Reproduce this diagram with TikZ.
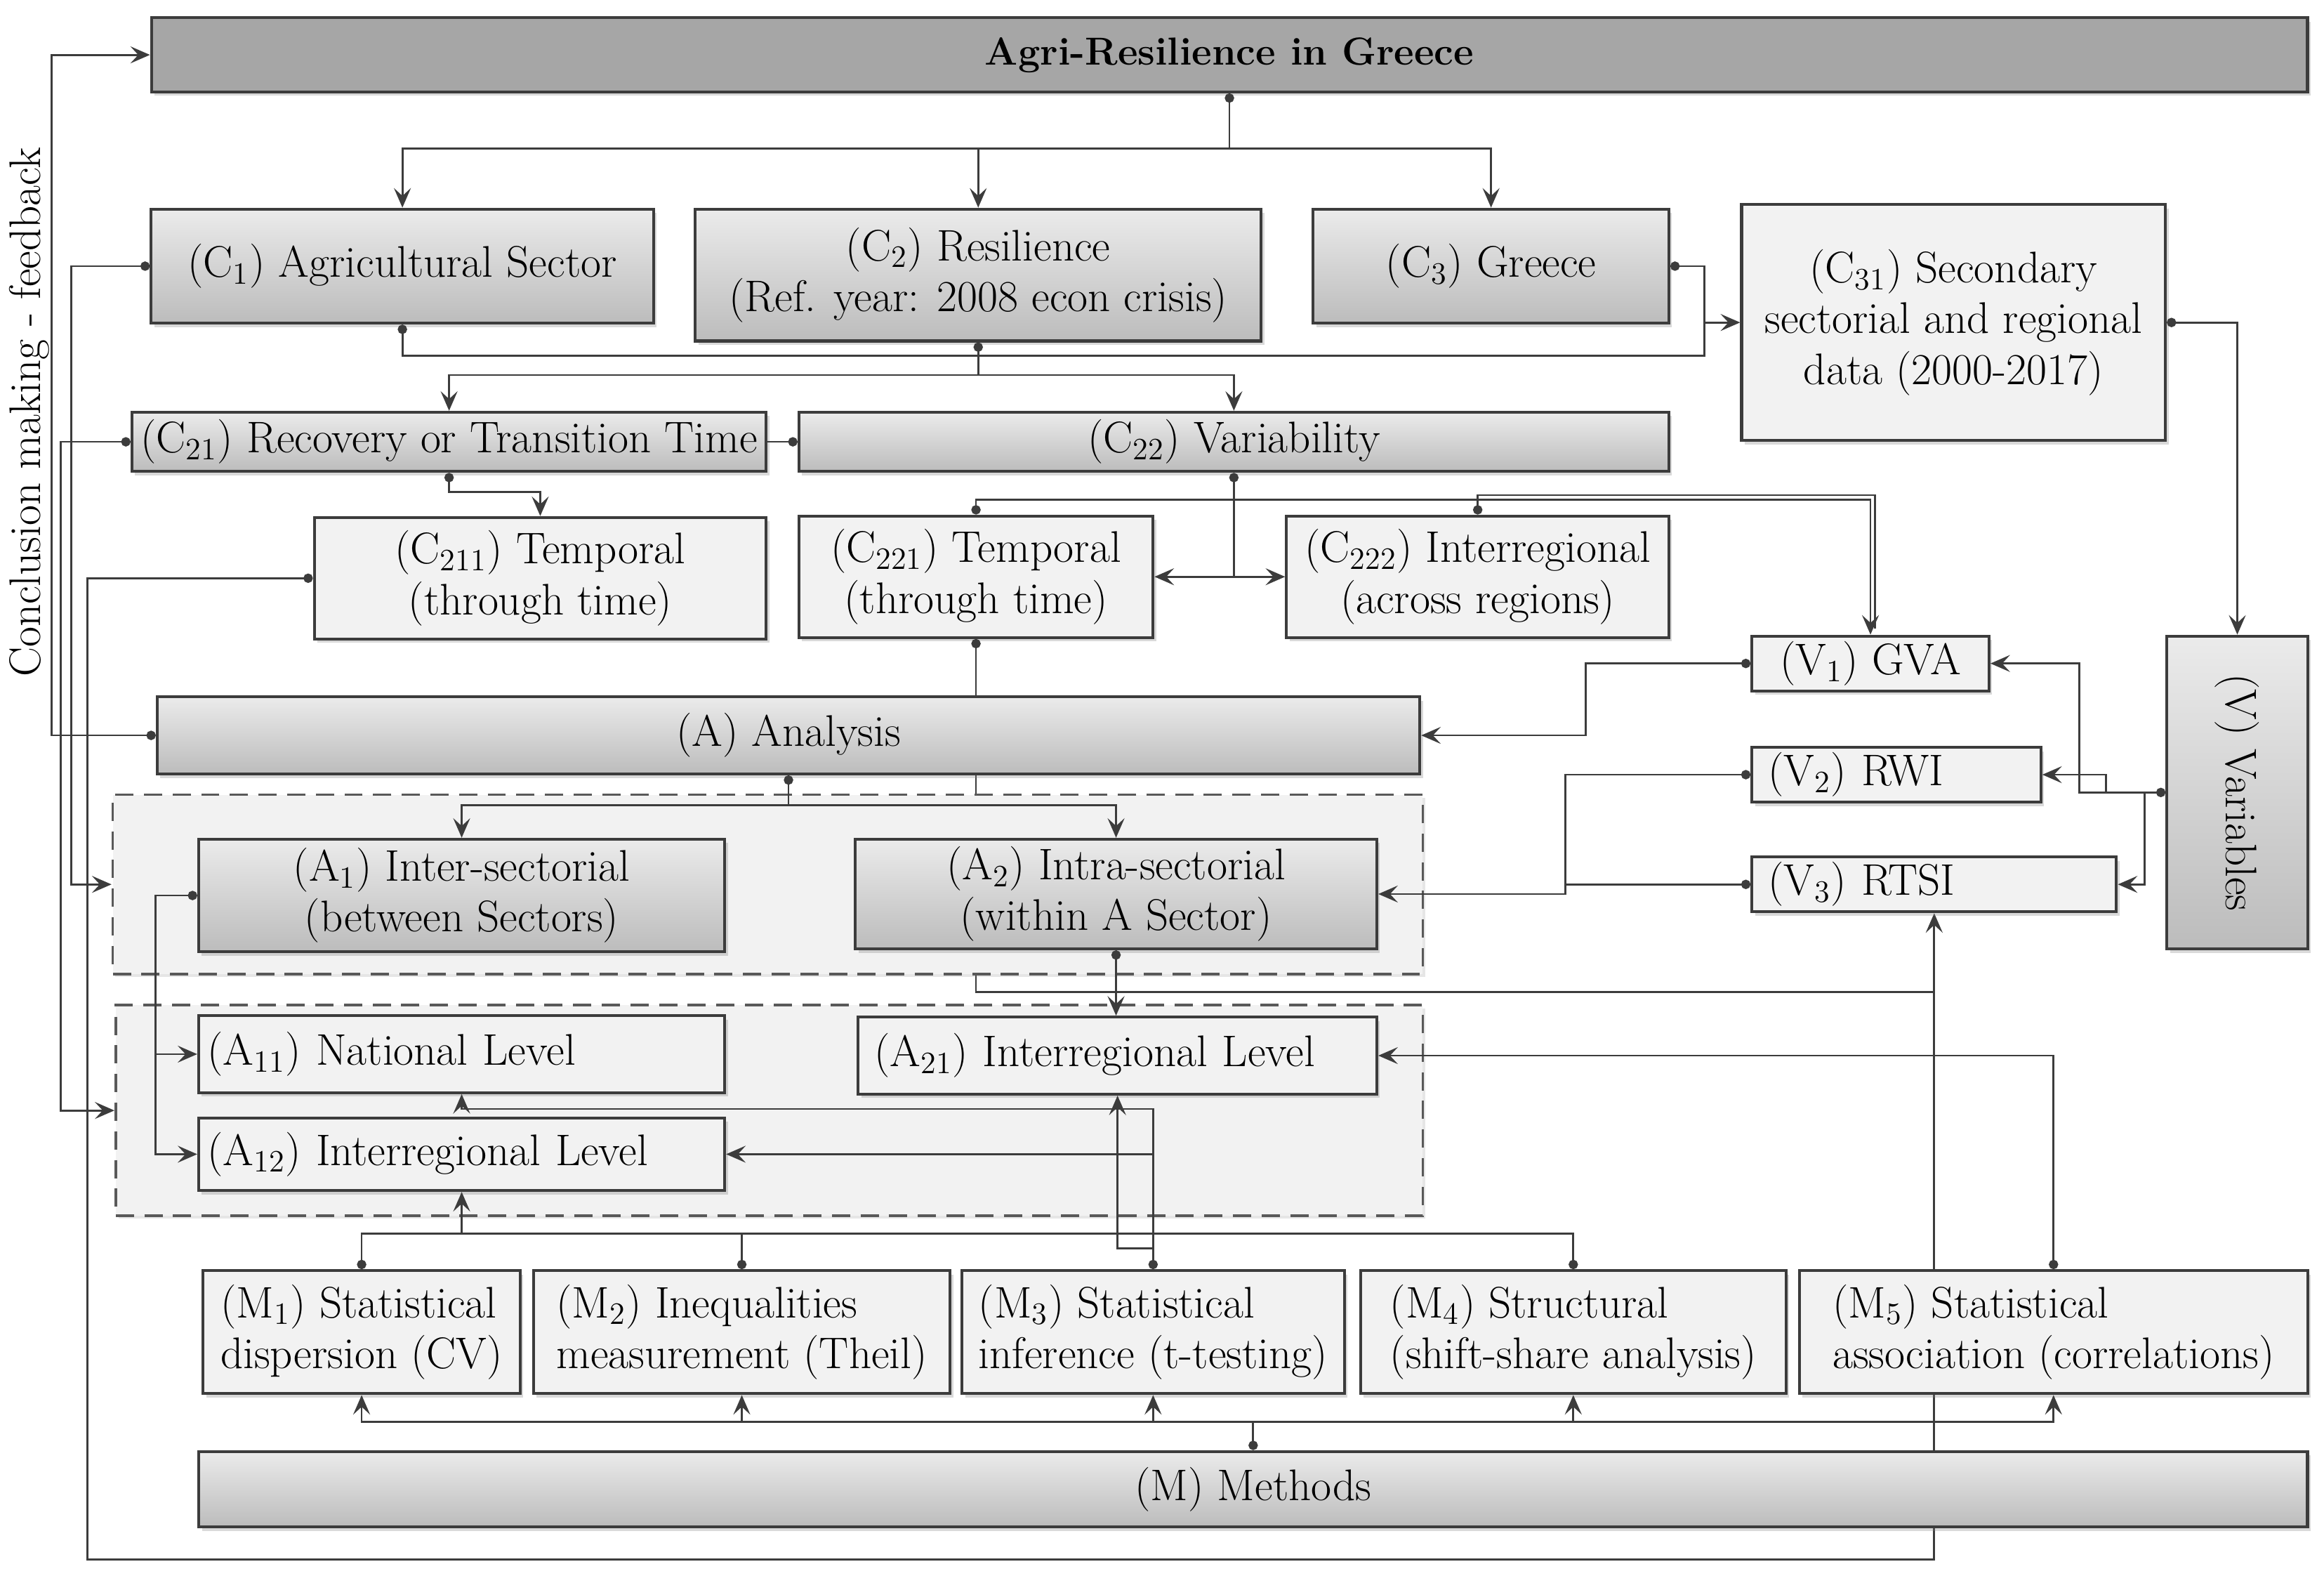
\documentclass[tikz,border=0pt]{standalone}
\usepackage{tikz}
\usetikzlibrary{arrows.meta,positioning,shadows,backgrounds}
\definecolor{arbar}{HTML}{A6A6A6}
\definecolor{arlight}{HTML}{F2F2F2}
\definecolor{artop}{HTML}{EBEBEB}
\definecolor{arbottom}{HTML}{BCBCBC}
\definecolor{arline}{HTML}{3C3C3C}

\tikzset{
  basebox/.style={draw=arline, line width=1.1pt, inner sep=0pt, align=center,
    font=\fontsize{17pt}{19.5pt}\selectfont,
    drop shadow={shadow xshift=1.2pt, shadow yshift=-1.5pt, opacity=0.3}},
  darkbox/.style={basebox, fill=arbar},
  midbox/.style={basebox, top color=artop, bottom color=arbottom},
  lightbox/.style={basebox, fill=arlight},
  groupbox/.style={draw=arline!85, line width=1pt, dash pattern=on 7pt off 4pt,
    fill=arlight, inner sep=0pt,
    drop shadow={shadow xshift=1pt, shadow yshift=-1.2pt, opacity=0.2}},
  wire/.style={draw=arline, line width=0.75pt},
  wirearr/.style={wire, -{Stealth[length=7.5pt,width=6.5pt,inset=3pt]}},
  dotwire/.style={wire, {Circle[length=3.6pt]}-},
  dotwirearr/.style={wire, {Circle[length=3.6pt]}-{Stealth[length=7.5pt,width=6.5pt,inset=3pt]}},
}

\begin{document}
\begin{tikzpicture}[x=0.02cm, y=-0.02cm]
  \useasboundingbox (0,0) rectangle (1568,1063);

  % Title and concepts
  \node[darkbox, minimum width=29.1cm, minimum height=1cm, font=\fontsize{15pt}{19pt}\selectfont\bfseries] (title) at (829.5,37) {Agri-Resilience in Greece};
  \node[midbox, minimum width=6.78cm, minimum height=1.54cm] (c1) at (271.5,179.5) {(C\textsubscript{1}) Agricultural Sector};
  \node[midbox, minimum width=7.64cm, minimum height=1.78cm] (c2) at (660,185.5) {(C\textsubscript{2}) Resilience\\(Ref. year: 2008 econ crisis)};
  \node[midbox, minimum width=4.8cm, minimum height=1.54cm] (c3) at (1006,179.5) {(C\textsubscript{3}) Greece};
  \node[lightbox, minimum width=5.72cm, minimum height=3.18cm] (c31) at (1318,217.5) {(C\textsubscript{31}) Secondary\\sectorial and regional\\data (2000-2017)};
  \node[midbox, minimum width=8.56cm, minimum height=0.8cm] (c21) at (303,298) {(C\textsubscript{21}) Recovery or Transition Time};
  \node[midbox, minimum width=11.74cm, minimum height=0.8cm] (c22) at (832.5,298) {(C\textsubscript{22}) Variability};
  \node[lightbox, minimum width=6.1cm, minimum height=1.64cm] (c211) at (364.5,390) {(C\textsubscript{211}) Temporal\\(through time)};
  \node[lightbox, minimum width=4.78cm, minimum height=1.64cm] (c221) at (658.5,389) {(C\textsubscript{221}) Temporal\\(through time)};
  \node[lightbox, minimum width=5.16cm, minimum height=1.64cm] (c222) at (997,389) {(C\textsubscript{222}) Interregional\\(across regions)};

  % Variables
  \node[lightbox, minimum width=3.2cm, minimum height=0.74cm] (v1) at (1262,447.5) {(V\textsubscript{1}) GVA};
  \node[lightbox, minimum width=3.9cm, minimum height=0.74cm, text width=3.46cm, align=left] (v2) at (1279.5,522.5) {(V\textsubscript{2}) RWI};
  \node[lightbox, minimum width=4.92cm, minimum height=0.74cm, text width=4.48cm, align=left] (v3) at (1305,596.5) {(V\textsubscript{3}) RTSI};
  \node[midbox, minimum width=1.9cm, minimum height=4.22cm] (v) at (1509.5,534.5) {};
  \node[rotate=-90, font=\fontsize{17pt}{19.5pt}\selectfont] (vlabel) at (v.center) {(V) Variables};

  % Analysis
  \node[midbox, minimum width=17.04cm, minimum height=1.04cm] (a) at (532,496) {(A) Analysis};
  \node[groupbox, minimum width=17.68cm, minimum height=2.42cm] (grp1) at (518,596.5) {};
  \node[groupbox, minimum width=17.64cm, minimum height=2.84cm] (grp2) at (519,749) {};
  \node[midbox, minimum width=7.1cm, minimum height=1.52cm] (a1) at (311.5,604) {(A\textsubscript{1}) Inter-sectorial\\(between Sectors)};
  \node[midbox, minimum width=7.04cm, minimum height=1.48cm] (a2) at (753,603) {(A\textsubscript{2}) Intra-sectorial\\(within A Sector)};
  \node[lightbox, minimum width=7.1cm, minimum height=1.04cm, text width=6.86cm, align=left] (a11) at (311.5,711) {(A\textsubscript{11}) National Level};
  \node[lightbox, minimum width=7cm, minimum height=1.04cm, text width=6.56cm, align=left] (a21) at (754,712) {(A\textsubscript{21}) Interregional Level};
  \node[lightbox, minimum width=7.1cm, minimum height=0.98cm, text width=6.86cm, align=left] (a12) at (311.5,778.5) {(A\textsubscript{12}) Interregional Level};

  % Methods
  \node[lightbox, minimum width=4.28cm, minimum height=1.66cm, align=left] (m1) at (244,898.5) {(M\textsubscript{1}) Statistical\\dispersion (CV)};
  \node[lightbox, minimum width=5.62cm, minimum height=1.66cm, align=left] (m2) at (500.5,898.5) {(M\textsubscript{2}) Inequalities\\measurement (Theil)};
  \node[lightbox, minimum width=5.16cm, minimum height=1.66cm, align=left] (m3) at (778,898.5) {(M\textsubscript{3}) Statistical\\inference (t-testing)};
  \node[lightbox, minimum width=5.74cm, minimum height=1.66cm, align=left] (m4) at (1061.5,898.5) {(M\textsubscript{4}) Structural\\(shift-share analysis)};
  \node[lightbox, minimum width=6.86cm, minimum height=1.66cm, align=left] (m5) at (1385.5,898.5) {(M\textsubscript{5}) Statistical\\association (correlations)};
  \node[midbox, minimum width=28.46cm, minimum height=1.02cm] (m) at (845.5,1004.5) {(M) Methods};

  % Side label
  \node[rotate=90, font=\fontsize{17pt}{19.5pt}\selectfont] (fb) at (20,278) {Conclusion making - feedback};

  % Lines running behind the boxes
  \begin{scope}[on background layer]
    \draw[dotwirearr] (c211.west) -| (59,1052) -| (v3.south);
    \draw[wire] (c221.south |- a.south) |- (1305,669);
  \end{scope}

  % Title to C1, C2, C3
  \coordinate (jt) at (title.south |- 0,100);
  \draw[dotwire] (title.south) -- (jt);
  \draw[wirearr] (jt) -| (c1.north);
  \draw[wirearr] (jt) -| (c3.north);
  \draw[wirearr] (jt -| c2.north) -- (c2.north);

  % C1, C3 to C31
  \coordinate (jd) at (1150,217.5);
  \draw[dotwire] (c1.south) |- (1150,240) -- (jd);
  \draw[dotwire] (c3.east) -| (jd);
  \draw[wirearr] (jd) -- (c31.west);

  % C2 to C21, C22
  \coordinate (jr) at (c2.south |- 0,253);
  \draw[dotwire] (c2.south) -- (jr);
  \draw[wirearr] (jr) -| (c21.north);
  \draw[wirearr] (jr) -| (c22.north);
  \draw[wire, -{Circle[length=3.6pt]}] (c21.east) -- (c22.west);
  \draw[dotwirearr] (c21.south) |- (c211.north |- 0,332) -- (c211.north);

  % C22 to C221, C222
  \coordinate (jv) at (c22.south |- 0,389);
  \draw[dotwire] (c22.south) -- (jv);
  \draw[wirearr] (jv) -- (c221.east);
  \draw[wirearr] (jv) -- (c222.west);
  \draw[dotwirearr] (c221.north) |- (v1.north |- 0,337) -- (v1.north);
  \draw[dotwire] (c222.north) |- (1265,334) -- (1265,424);
  \draw[dotwire] (c221.south) -- (c221.south |- a.north);

  % Variables
  \draw[dotwirearr] (c31.east) -| (v.north);
  \draw[dotwirearr] (v.west) -| (1403,447.5) -- (v1.east);
  \draw[wirearr] (v.west) -| (1421,522.5) -- (v2.east);
  \draw[wirearr] (v.west) -| (1447,596.5) -- (v3.east);
  \draw[dotwirearr] (v1.west) -| (1070,496) -- (a.east);
  \draw[dotwirearr] (v2.west) -| (1056,603) -- (a2.east);
  \draw[dotwire] (v3.west) -- (v3.west -| 1056,0);

  % Analysis to A1, A2 and levels
  \coordinate (ja) at (a.south |- 0,543);
  \draw[dotwire] (a.south) -- (ja);
  \draw[wirearr] (ja) -| (a1.north);
  \draw[wirearr] (ja) -| (a2.north);
  \draw[dotwirearr] (a2.south) -- (a2.south |- a21.north);
  \draw[dotwirearr] (a1.west) -| (105,711) -- (a11.west);
  \draw[wirearr] (105,711) |- (a12.west);

  % Feedback on the left
  \draw[dotwirearr] (a.west) -| (35,37) -- (title.west);
  \draw[dotwirearr] (c1.west) -| (48,596.5) -- (grp1.west);
  \draw[dotwirearr] (c21.west) -| (41,749) -- (grp2.west);

  % Methods
  \coordinate (jm) at (m.north |- 0,959);
  \draw[dotwire] (m.north) -- (jm);
  \foreach \k in {m1,m2,m3,m4,m5}
    \draw[wirearr] (jm) -| (\k.south);
  \coordinate (jl) at (a12.south |- 0,832);
  \draw[dotwire] (m1.north) |- (jl);
  \draw[dotwire] (m2.north) -- (m2.north |- jl);
  \draw[dotwire] (m4.north) |- (jl);
  \draw[wirearr] (jl) -- (a12.south);
  \draw[dotwirearr] (m3.north) |- (a11.south |- 0,748) -- (a11.south);
  \draw[wirearr] (m3.north |- a12.east) -- (a12.east);
  \draw[wirearr] (m3.north |- 0,842) -| (a21.south);
  \draw[dotwirearr] (m5.north) |- (a21.east);
\end{tikzpicture}
\end{document}
